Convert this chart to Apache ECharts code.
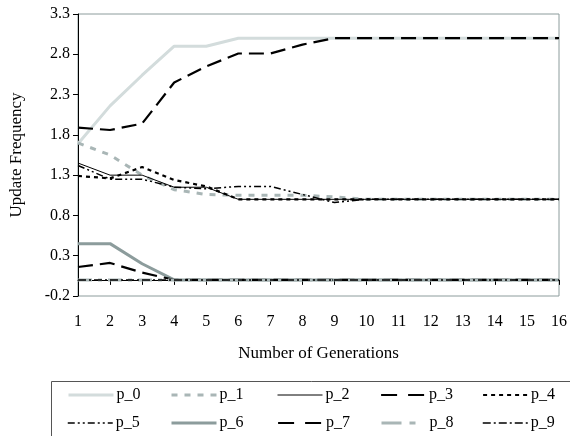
<!DOCTYPE html>
<html><head><meta charset="utf-8">
<script src="https://cdn.jsdelivr.net/npm/echarts@6/dist/echarts.min.js"></script>
<style>html,body{margin:0;padding:0;background:#fff}#c{width:570px;height:436px}</style>
</head><body><div id="c"></div>
<script>
const generations = ['1','2','3','4','5','6','7','8','9','10','11','12','13','14','15','16'];
const yTicks = [-0.2, 0.3, 0.8, 1.3, 1.8, 2.3, 2.8, 3.3];
const p_0 = [1.69, 2.16, 2.54, 2.90, 2.90, 3.0, 3.0, 3.0, 3.0, 3.0, 3.0, 3.0, 3.0, 3.0, 3.0, 3.0];
const p_1 = [1.70, 1.55, 1.30, 1.12, 1.06, 1.05, 1.05, 1.05, 1.03, 1.0, 1.0, 1.0, 1.0, 1.0, 1.0, 1.0];
const p_2 = [1.45, 1.30, 1.30, 1.15, 1.15, 1.0, 1.0, 1.0, 1.0, 1.0, 1.0, 1.0, 1.0, 1.0, 1.0, 1.0];
const p_3 = [1.89, 1.86, 1.94, 2.45, 2.65, 2.81, 2.81, 2.92, 3.0, 3.0, 3.0, 3.0, 3.0, 3.0, 3.0, 3.0];
const p_4 = [1.29, 1.26, 1.40, 1.24, 1.16, 1.0, 1.0, 1.0, 1.0, 1.0, 1.0, 1.0, 1.0, 1.0, 1.0, 1.0];
const p_5 = [1.42, 1.25, 1.25, 1.15, 1.13, 1.16, 1.16, 1.06, 0.96, 1.0, 1.0, 1.0, 1.0, 1.0, 1.0, 1.0];
const p_6 = [0.45, 0.45, 0.20, 0.0, 0.0, 0.0, 0.0, 0.0, 0.0, 0.0, 0.0, 0.0, 0.0, 0.0, 0.0, 0.0];
const p_7 = [0.16, 0.21, 0.09, 0.0, 0.0, 0.0, 0.0, 0.0, 0.0, 0.0, 0.0, 0.0, 0.0, 0.0, 0.0, 0.0];
const p_8 = [0.0, 0.0, 0.0, 0.0, 0.0, 0.0, 0.0, 0.0, 0.0, 0.0, 0.0, 0.0, 0.0, 0.0, 0.0, 0.0];
const p_9 = [0.0, 0.0, 0.0, 0.0, 0.0, 0.0, 0.0, 0.0, 0.0, 0.0, 0.0, 0.0, 0.0, 0.0, 0.0, 0.0];
const seriesNames = ['p_0','p_1','p_2','p_3','p_4','p_5','p_6','p_7','p_8','p_9'];
const seriesData = [p_0,p_1,p_2,p_3,p_4,p_5,p_6,p_7,p_8,p_9];

const styles = [
  {color:'#d3dcdc', width:3, type:'solid'},
  {color:'#a9b6b6', width:3, type:[6,7]},
  {color:'#000000', width:1, type:'solid'},
  {color:'#000000', width:2.2, type:[15,7]},
  {color:'#000000', width:2.2, type:[4,4]},
  {color:'#000000', width:1.5, type:[7,3,2,3,2,3]},
  {color:'#8c9c9c', width:3, type:'solid'},
  {color:'#000000', width:2.2, type:[15,7]},
  {color:'#a9b6b6', width:3, type:[14,6,4,6]},
  {color:'#000000', width:1.5, type:[8,3,2,3]}
];
const legendDash = [null, null, null, [16,11], null, null, null, [16,11], [20,8,6,20], null];
const FONT = 'Liberation Serif';
const colX = [67, 170, 277, 380, 482];
const rowY = [387, 415];

const legends = seriesNames.map((n,i)=>({
  data:[n], left: colX[i%5], top: rowY[Math.floor(i/5)],
  itemWidth:45, itemHeight:14, itemGap:0, padding:0,
  itemStyle:{opacity:0, color:'transparent', borderWidth:0},
  lineStyle:{width:styles[i].width, color:styles[i].color, type:legendDash[i] || styles[i].type},
  textStyle:{fontFamily:FONT, fontSize:16, color:'#000', padding:[0,0,0,-2]},
  selectedMode:false
}));

const chart = echarts.init(document.getElementById('c'), null, {renderer:'canvas'});
chart.setOption({
  animation:false,
  backgroundColor:'#fff',
  grid:{left:74, right:8, top:14, bottom:140, show:true, borderColor:'#8c9c9c', borderWidth:1},
  legend: legends,
  graphic:[{type:'rect', shape:{x:51.5, y:381.5, width:530, height:70}, style:{fill:null, stroke:'#555', lineWidth:1}, z:-1}],
  xAxis:{type:'category', data:generations, boundaryGap:false,
    name:'Number of Generations', nameLocation:'middle', nameGap:49,
    nameTextStyle:{fontFamily:FONT, fontSize:17, color:'#000'},
    axisLine:{lineStyle:{color:'#000', width:1}},
    axisTick:{show:true, inside:false, length:5, lineStyle:{color:'#000'}},
    axisLabel:{fontFamily:FONT, fontSize:16, color:'#000', margin:18},
    splitLine:{show:false}},
  yAxis:{type:'value', min:-0.2, max:3.3,
    name:'Update Frequency', nameLocation:'middle', nameGap:53, nameRotate:90,
    nameTextStyle:{fontFamily:FONT, fontSize:17, color:'#000'},
    axisLine:{show:true, lineStyle:{color:'#000', width:1}},
    axisTick:{show:true, length:5, lineStyle:{color:'#000'}, customValues:yTicks},
    axisLabel:{fontFamily:FONT, fontSize:16, color:'#000', margin:8, customValues:yTicks,
      formatter:v=>v.toFixed(1)},
    splitLine:{show:false}},
  series: seriesNames.map((n,i)=>({
    name:n, type:'line', data:seriesData[i], symbol:'none', showSymbol:false,
    lineStyle:{color:styles[i].color, width:styles[i].width, type:styles[i].type},
    itemStyle:{color:styles[i].color},
    z: 2 + i
  }))
});
</script></body></html>
